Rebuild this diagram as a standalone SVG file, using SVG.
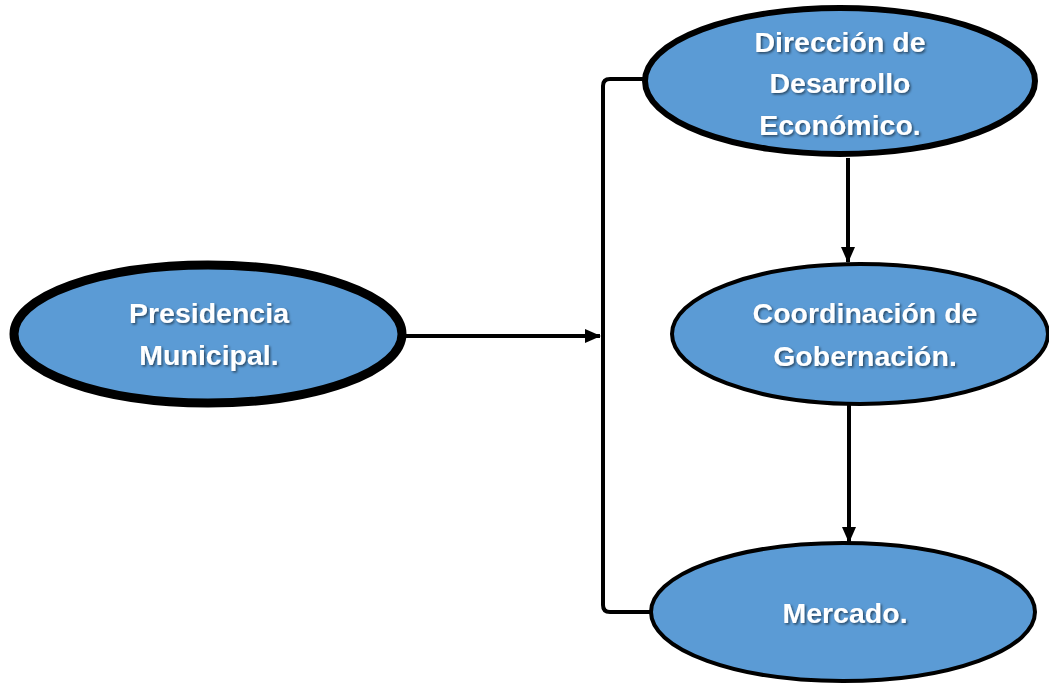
<svg xmlns="http://www.w3.org/2000/svg" width="1049" height="683" viewBox="0 0 1049 683">
<style>
.node ellipse{fill:#5B9BD5;stroke:#000}
.node text{font-family:"Liberation Sans",Arial,sans-serif;font-weight:bold;font-size:28.5px;fill:#fff;text-anchor:middle;filter:url(#sh)}
.conn{fill:none;stroke:#000;stroke-width:4}
</style>
<defs>
<filter id="sh" x="-10%" y="-30%" width="120%" height="160%">
<feDropShadow dx="1.5" dy="1.5" stdDeviation="1" flood-color="#000" flood-opacity="0.55"/>
</filter>
<marker id="ah" markerWidth="16" markerHeight="16" viewBox="0 0 16 16" refX="15" refY="8" orient="auto" markerUnits="userSpaceOnUse">
<path d="M0,1 L16,8 L0,15 Z" fill="#000"/>
</marker>
</defs>
<rect width="1049" height="683" fill="#fff"/>
<g id="connectors">
<path class="conn" d="M648,79 H610 Q603,79 603,86 V605 Q603,612 610,612 H652" stroke-width="5"/>
<line class="conn" x1="405" y1="336" x2="600" y2="336" marker-end="url(#ah)"/>
<line class="conn" x1="848" y1="158" x2="848" y2="262" marker-end="url(#ah)"/>
<line class="conn" x1="849" y1="405" x2="849" y2="542" marker-end="url(#ah)"/>
</g>
<g id="presidencia" class="node">
<ellipse cx="208" cy="334" rx="194" ry="69" stroke-width="9"/>
<text x="209" y="323">Presidencia</text>
<text x="209" y="365">Municipal.</text>
</g>
<g id="direccion" class="node">
<ellipse cx="840" cy="81" rx="195" ry="73" stroke-width="6"/>
<text x="840" y="52">Dirección de</text>
<text x="840" y="93">Desarrollo</text>
<text x="840" y="135">Económico.</text>
</g>
<g id="coordinacion" class="node">
<ellipse cx="860" cy="334" rx="188" ry="70" stroke-width="4"/>
<text x="865" y="323">Coordinación de</text>
<text x="865" y="366">Gobernación.</text>
</g>
<g id="mercado" class="node">
<ellipse cx="843" cy="612" rx="192" ry="69" stroke-width="4"/>
<text x="845" y="623">Mercado.</text>
</g>
</svg>
